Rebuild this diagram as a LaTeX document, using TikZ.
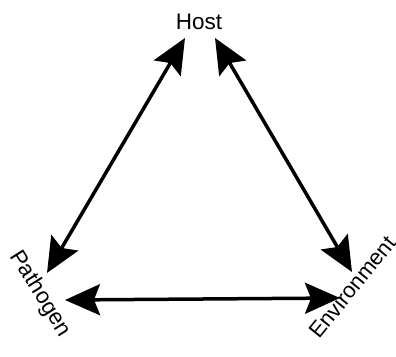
\documentclass[tikz,border=0pt]{standalone}
\usepackage{fontspec}
\setmainfont{Liberation Sans}
\usetikzlibrary{arrows.meta}
\tikzset{
  lbl/.style={font=\fontsize{22.5}{22.5}\selectfont, inner sep=0pt, anchor=center},
  dbl/.style={line width=3.5pt, {Stealth[length=35pt,width=31pt,inset=6pt]}-{Stealth[length=35pt,width=31pt,inset=6pt]}}
}
\begin{document}
\begin{tikzpicture}[x=1pt,y=-1pt]
\useasboundingbox (0,0) rectangle (396,356);
\node[lbl] (host) at (199,22) {Host};
\node[lbl, rotate=-58] (pathogen) at (40,294) {Pathogen};
\node[lbl, rotate=51, font=\fontsize{22}{22}\selectfont] (environment) at (352,287) {Environment};
\coordinate (pl) at (47,273);
\coordinate (hl) at (185,38);
\coordinate (hr) at (215,38);
\coordinate (er) at (352,272);
\coordinate (pb) at (65,300);
\coordinate (eb) at (340,298);
\draw[dbl] (pl) -- (hl);
\draw[dbl] (hr) -- (er);
\draw[dbl] (pb) -- (eb);
\end{tikzpicture}
\end{document}
